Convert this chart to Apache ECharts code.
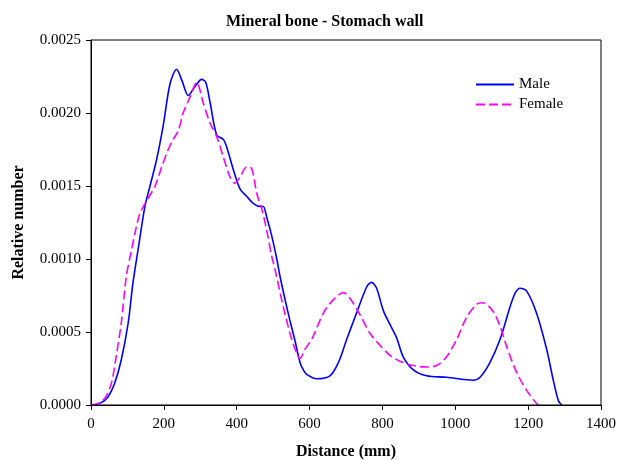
<!DOCTYPE html>
<html>
<head>
<meta charset="utf-8">
<script src="https://cdn.jsdelivr.net/npm/echarts@6/dist/echarts.min.js"></script>
<style>
  html, body { margin: 0; padding: 0; background: #fff; }
  #chart { width: 621px; height: 460px; }
</style>
</head>
<body>
<div id="chart"></div>
<script>
// Distance (mm) and relative number for each profile
const maleDist = [0, 5, 28, 47, 65, 83, 102, 115, 129, 148, 162, 180, 198, 217, 235, 250, 267, 285, 304, 315, 327, 345, 363, 372, 391, 409, 427, 446, 465, 473, 482, 495, 510, 519, 532, 546, 560, 574, 583, 592, 620, 656, 679, 702, 729, 757, 770, 784, 802, 821, 839, 857, 885, 921, 976, 1049, 1068, 1095, 1123, 1150, 1165, 1178, 1196, 1223, 1251, 1269, 1283, 1292];
const maleVal = [0, 0, 0.000016, 0.000057, 0.000149, 0.000308, 0.00056, 0.000833, 0.00106, 0.00136, 0.0015, 0.00168, 0.00191, 0.0022, 0.0023, 0.00222, 0.00212, 0.00218, 0.00223, 0.00221, 0.00207, 0.00185, 0.00182, 0.00177, 0.00161, 0.00148, 0.00143, 0.00138, 0.00136, 0.00136, 0.00129, 0.00117, 0.001, 0.00088, 0.00073, 0.00058, 0.00044, 0.00029, 0.00024, 0.00021, 0.00018, 0.0002, 0.00029, 0.00045, 0.00063, 0.00081, 0.00084, 0.0008, 0.00065, 0.00055, 0.00046, 0.00033, 0.00024, 0.0002, 0.00019, 0.00017, 0.00019, 0.00029, 0.00045, 0.00067, 0.00077, 0.0008, 0.00078, 0.00063, 0.00038, 0.00017, 0.00003, 0];

const femaleDist = [0, 19, 38, 56, 69, 83, 97, 111, 121, 134, 153, 176, 194, 212, 226, 240, 253, 272, 290, 308, 327, 345, 363, 382, 395, 409, 427, 441, 455, 469, 482, 496, 505, 528, 551, 569, 574, 587, 601, 610, 638, 665, 693, 711, 738, 766, 793, 821, 848, 885, 921, 949, 976, 1004, 1031, 1059, 1077, 1104, 1123, 1141, 1169, 1196, 1223, 1228];
const femaleVal = [0, 0.00001, 0.000046, 0.00015, 0.00033, 0.00056, 0.00088, 0.00106, 0.00118, 0.00131, 0.0014, 0.0015, 0.00163, 0.00175, 0.00182, 0.00188, 0.002, 0.00211, 0.00221, 0.00207, 0.00193, 0.00184, 0.0017, 0.00156, 0.00152, 0.00156, 0.00163, 0.00162, 0.00145, 0.00134, 0.0012, 0.00102, 0.00093, 0.00067, 0.00045, 0.00033, 0.00032, 0.00038, 0.00043, 0.00047, 0.00063, 0.00072, 0.00077, 0.00073, 0.00062, 0.00049, 0.00041, 0.00034, 0.0003, 0.00027, 0.00026, 0.00027, 0.00033, 0.00045, 0.0006, 0.00069, 0.0007, 0.00064, 0.00054, 0.0004, 0.00022, 0.0001, 0.00001, 0];

const seriesNames = ['Male', 'Female'];
const xTicks = [0, 200, 400, 600, 800, 1000, 1200, 1400];
const yTicks = [0, 0.0005, 0.001, 0.0015, 0.002, 0.0025];

const pairs = (xs, ys) => xs.map((x, i) => [x, ys[i]]);
const FONT = '"Liberation Serif", "Times New Roman", serif';

const chart = echarts.init(document.getElementById('chart'), null, { renderer: 'canvas' });
chart.setOption({
  backgroundColor: '#ffffff',
  animation: false,
  title: {
    text: 'Mineral bone - Stomach wall',
    left: 221, top: 9,
    textStyle: { fontFamily: FONT, fontSize: 16, fontWeight: 'bold', color: '#000' }
  },
  legend: {
    orient: 'vertical',
    left: 470, top: 72,
    itemWidth: 38, itemHeight: 10, itemGap: 5,
    itemStyle: { opacity: 0 },
    textStyle: { fontFamily: FONT, fontSize: 15, color: '#000', padding: [0, 0, 0, 0] },
    data: seriesNames
  },
  grid: { left: 91, right: 20, top: 40, bottom: 55, containLabel: false, outerBoundsMode: 'none' },
  xAxis: {
    type: 'value', min: xTicks[0], max: xTicks[xTicks.length - 1], interval: 200,
    name: 'Distance (mm)', nameLocation: 'middle', nameGap: 39,
    nameTextStyle: { fontFamily: FONT, fontSize: 16, fontWeight: 'bold', color: '#000' },
    axisLine: { lineStyle: { color: '#000', width: 1 } },
    axisTick: { show: true, length: 5, inside: false, lineStyle: { color: '#000' } },
    axisLabel: { fontFamily: FONT, fontSize: 15, color: '#000', margin: 12,
      formatter: v => String(v) },
    splitLine: { show: false }
  },
  yAxis: {
    type: 'value', min: yTicks[0], max: yTicks[yTicks.length - 1], interval: 0.0005,
    name: 'Relative number', nameLocation: 'middle', nameGap: 64, nameRotate: 90,
    nameTextStyle: { fontFamily: FONT, fontSize: 16, fontWeight: 'bold', color: '#000' },
    axisLine: { show: true, lineStyle: { color: '#000', width: 1 } },
    axisTick: { show: true, length: 5, inside: false, lineStyle: { color: '#000' } },
    axisLabel: { fontFamily: FONT, fontSize: 15, color: '#000', margin: 10,
      formatter: v => v.toFixed(4) },
    splitLine: { show: false }
  },
  graphic: [{
    type: 'rect', z: 100, silent: true,
    shape: { x: 91, y: 40, width: 510, height: 365 },
    style: { fill: 'none', stroke: '#000', lineWidth: 1 }
  }],
  series: [
    {
      name: seriesNames[0], type: 'line', symbol: 'none', smooth: 0.3,
      data: pairs(maleDist, maleVal),
      lineStyle: { color: '#0000ff', width: 1.6, type: 'solid' },
      itemStyle: { color: '#0000ff' }
    },
    {
      name: seriesNames[1], type: 'line', symbol: 'none', smooth: 0.3,
      data: pairs(femaleDist, femaleVal),
      lineStyle: { color: '#ff00ff', width: 1.6, type: [9, 4] },
      itemStyle: { color: '#ff00ff' }
    }
  ]
});
</script>
</body>
</html>
